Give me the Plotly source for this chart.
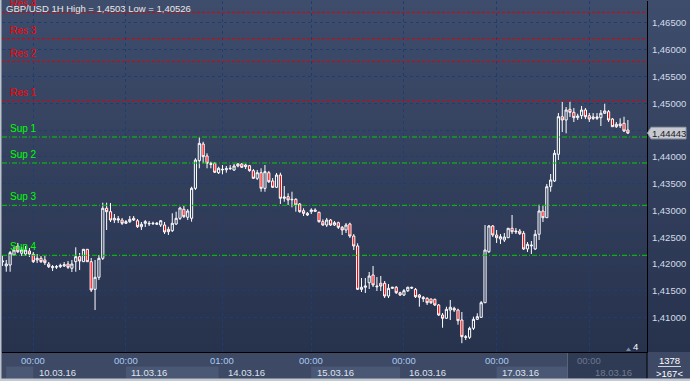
import plotly.graph_objects as go

# ---------------- data (GBP/USD 1H bars) ----------------
bar_index = list(range(-1, 162))

open_ = [1.42039, 1.41965, 1.41983, 1.42170, 1.42338, 1.42202, 1.42188, 1.42244, 1.42183, 1.42077,
         1.42108, 1.42077, 1.42002, 1.41933, 1.41952, 1.41952, 1.41965, 1.42002, 1.41922, 1.42045,
         1.42138, 1.42045, 1.42276, 1.42045, 1.41530, 1.41754, 1.42108, 1.43041, 1.42977, 1.42822,
         1.42847, 1.42822, 1.42761, 1.42791, 1.42854, 1.42809, 1.42697, 1.42761, 1.42761, 1.42753,
         1.42742, 1.42729, 1.42729, 1.42649, 1.42623, 1.42748, 1.42854, 1.43022, 1.42873, 1.42854,
         1.43413, 1.43928, 1.44239, 1.44016, 1.43879, 1.43879, 1.43704, 1.43768, 1.43760, 1.43779,
         1.43755, 1.43866, 1.43866, 1.43848, 1.43835, 1.43742, 1.43600, 1.43704, 1.43413, 1.43704,
         1.43549, 1.43432, 1.43661, 1.43227, 1.43257, 1.43208, 1.43208, 1.43121, 1.42996, 1.42947,
         1.42977, 1.43009, 1.42966, 1.42791, 1.42729, 1.42822, 1.42729, 1.42772, 1.42686, 1.42636,
         1.42748, 1.42524, 1.42338, 1.41530, 1.41568, 1.41653, 1.41797, 1.41592, 1.41642, 1.41642,
         1.41405, 1.41549, 1.41568, 1.41467, 1.41424, 1.41504, 1.41568, 1.41530, 1.41424, 1.41381,
         1.41363, 1.41349, 1.41344, 1.41238, 1.41051, 1.40990, 1.41144, 1.41176, 1.41144, 1.40958,
         1.40647, 1.40635, 1.40803, 1.40971, 1.41008, 1.41280, 1.42231, 1.42711, 1.42543, 1.42468,
         1.42449, 1.42492, 1.42668, 1.42617, 1.42617, 1.42574, 1.42282, 1.42356, 1.42282, 1.42556,
         1.42990, 1.42865, 1.43443, 1.43549, 1.44047, 1.44748, 1.44687, 1.44886, 1.44830, 1.44730,
         1.44767, 1.44873, 1.44767, 1.44743, 1.44718, 1.44730, 1.44812, 1.44842, 1.44705, 1.44562,
         1.44612, 1.44625, 1.44500]

high = [1.42157, 1.42077, 1.42244, 1.42319, 1.42394, 1.42319, 1.42338, 1.42300, 1.42226, 1.42188,
        1.42151, 1.42151, 1.42039, 1.41983, 1.41983, 1.42008, 1.42039, 1.42058, 1.42077, 1.42313,
        1.42207, 1.42282, 1.42282, 1.42114, 1.42077, 1.42170, 1.43145, 1.43145, 1.43139, 1.42934,
        1.42897, 1.42860, 1.42822, 1.42897, 1.42897, 1.42841, 1.42785, 1.42822, 1.42804, 1.42791,
        1.42785, 1.42822, 1.42785, 1.42697, 1.42947, 1.42977, 1.43070, 1.43083, 1.43027, 1.43443,
        1.43973, 1.44364, 1.44282, 1.44066, 1.43909, 1.43904, 1.43816, 1.43848, 1.43829, 1.43848,
        1.43866, 1.43885, 1.43885, 1.43872, 1.43848, 1.43773, 1.43755, 1.43786, 1.43848, 1.43736,
        1.43605, 1.43699, 1.43704, 1.43456, 1.43320, 1.43350, 1.43227, 1.43139, 1.43041, 1.42972,
        1.43041, 1.43041, 1.42977, 1.42835, 1.42860, 1.42841, 1.42804, 1.42791, 1.42711, 1.42766,
        1.42772, 1.42561, 1.42388, 1.41741, 1.41741, 1.41853, 1.41965, 1.41760, 1.41778, 1.41685,
        1.41629, 1.41573, 1.41592, 1.41486, 1.41536, 1.41579, 1.41579, 1.41555, 1.41443, 1.41405,
        1.41381, 1.41355, 1.41355, 1.41256, 1.41088, 1.41206, 1.41331, 1.41206, 1.41169, 1.41107,
        1.40678, 1.40833, 1.41020, 1.41083, 1.41312, 1.42729, 1.42729, 1.42729, 1.42636, 1.42561,
        1.42580, 1.42673, 1.42916, 1.42673, 1.42655, 1.42617, 1.42412, 1.42431, 1.42636, 1.43108,
        1.43083, 1.43494, 1.43680, 1.44127, 1.44817, 1.45028, 1.44929, 1.45030, 1.44910, 1.44804,
        1.44948, 1.44910, 1.44817, 1.44817, 1.44817, 1.44873, 1.44991, 1.44873, 1.44724, 1.44649,
        1.44718, 1.44748, 1.44687]

low = [1.41965, 1.41858, 1.41858, 1.42151, 1.42207, 1.42151, 1.42151, 1.42133, 1.42021, 1.42021,
       1.42021, 1.41983, 1.41927, 1.41872, 1.41909, 1.41927, 1.41946, 1.41909, 1.41853, 1.41858,
       1.41890, 1.42039, 1.42039, 1.41480, 1.41144, 1.41704, 1.42077, 1.42636, 1.42785, 1.42766,
       1.42766, 1.42729, 1.42748, 1.42766, 1.42804, 1.42673, 1.42636, 1.42692, 1.42711, 1.42729,
       1.42729, 1.42692, 1.42561, 1.42543, 1.42599, 1.42729, 1.42822, 1.42860, 1.42822, 1.42791,
       1.43382, 1.43786, 1.43879, 1.43786, 1.43786, 1.43699, 1.43680, 1.43674, 1.43704, 1.43755,
       1.43736, 1.43805, 1.43792, 1.43773, 1.43723, 1.43587, 1.43568, 1.43350, 1.43350, 1.43512,
       1.43419, 1.43419, 1.43121, 1.43164, 1.43102, 1.43059, 1.42977, 1.42958, 1.42897, 1.42897,
       1.42934, 1.42972, 1.42772, 1.42711, 1.42692, 1.42711, 1.42711, 1.42655, 1.42543, 1.42580,
       1.42487, 1.42263, 1.41517, 1.41480, 1.41461, 1.41536, 1.41573, 1.41499, 1.41499, 1.41368,
       1.41368, 1.41536, 1.41443, 1.41405, 1.41405, 1.41480, 1.41536, 1.41368, 1.41206, 1.41294,
       1.41238, 1.41256, 1.41219, 1.41033, 1.40814, 1.40977, 1.40958, 1.41107, 1.40870, 1.40526,
       1.40585, 1.40604, 1.40772, 1.40958, 1.40995, 1.41275, 1.42207, 1.42505, 1.42394, 1.42375,
       1.42412, 1.42487, 1.42561, 1.42561, 1.42543, 1.42263, 1.42226, 1.42188, 1.42263, 1.42449,
       1.42785, 1.42860, 1.43350, 1.43531, 1.43941, 1.44463, 1.44439, 1.44743, 1.44649, 1.44687,
       1.44705, 1.44705, 1.44649, 1.44687, 1.44687, 1.44575, 1.44799, 1.44649, 1.44556, 1.44538,
       1.44538, 1.44463, 1.44426]

close = [1.42058, 1.42002, 1.42213, 1.42263, 1.42231, 1.42263, 1.42263, 1.42188, 1.42045, 1.42108,
         1.42045, 1.42026, 1.41952, 1.41952, 1.41946, 1.41978, 1.41989, 1.41941, 1.42002, 1.42138,
         1.42058, 1.42276, 1.42045, 1.41517, 1.41754, 1.42108, 1.43041, 1.42977, 1.42822, 1.42854,
         1.42822, 1.42761, 1.42791, 1.42835, 1.42822, 1.42697, 1.42742, 1.42791, 1.42753, 1.42761,
         1.42761, 1.42809, 1.42599, 1.42604, 1.42761, 1.42854, 1.43046, 1.42884, 1.42990, 1.43413,
         1.43941, 1.44252, 1.44003, 1.43879, 1.43861, 1.43712, 1.43786, 1.43760, 1.43779, 1.43786,
         1.43829, 1.43829, 1.43805, 1.43816, 1.43742, 1.43600, 1.43704, 1.43413, 1.43723, 1.43536,
         1.43432, 1.43661, 1.43227, 1.43251, 1.43195, 1.43201, 1.43102, 1.42977, 1.42947, 1.42916,
         1.43009, 1.42985, 1.42791, 1.42729, 1.42822, 1.42729, 1.42772, 1.42686, 1.42636, 1.42729,
         1.42524, 1.42338, 1.41530, 1.41568, 1.41592, 1.41778, 1.41611, 1.41579, 1.41592, 1.41405,
         1.41549, 1.41568, 1.41467, 1.41424, 1.41504, 1.41568, 1.41555, 1.41392, 1.41381, 1.41355,
         1.41280, 1.41280, 1.41238, 1.41051, 1.40990, 1.41157, 1.41195, 1.41144, 1.40945, 1.40647,
         1.40635, 1.40803, 1.40971, 1.41020, 1.41280, 1.42263, 1.42711, 1.42543, 1.42492, 1.42511,
         1.42505, 1.42668, 1.42604, 1.42604, 1.42567, 1.42282, 1.42369, 1.42343, 1.42556, 1.42990,
         1.42865, 1.43443, 1.43568, 1.44066, 1.44748, 1.44687, 1.44873, 1.44830, 1.44730, 1.44761,
         1.44873, 1.44748, 1.44705, 1.44718, 1.44743, 1.44812, 1.44855, 1.44687, 1.44562, 1.44607,
         1.44580, 1.44482, 1.44443]

level_names = ["Res 4", "Res 3", "Res 2", "Res 1", "Sup 1", "Sup 2", "Sup 3", "Sup 4"]
level_values = [1.46695, 1.46203, 1.45774, 1.45035, 1.44370, 1.43885, 1.43096, 1.42164]

day_start_bars = [7, 31, 56, 79, 103, 127, 151]
time_labels = ["00:00", "00:00", "01:00", "00:00", "00:00", "00:00", "00:00"]
date_labels = ["10.03.16", "11.03.16", "14.03.16", "15.03.16", "16.03.16", "17.03.16", "18.03.16"]
date_box_spans = [(0, 7), (31, 55), (79, 102), (127, 150)]   # shaded date cells

price_ticks = [1.410, 1.415, 1.420, 1.425, 1.430, 1.435, 1.440, 1.445, 1.450, 1.455, 1.460, 1.465]
hidden_tick = 1.445            # covered by the current-price marker
last_price_text = "1,44443"
title_text = "GBP/USD 1H High = 1,4503 Low = 1,40526"
bars_total_text = "1378"
bars_visible_text = ">167<"

# ---------------- geometry ----------------
W, H = 690, 381
ML, MR, MT, MB = 2, 43, 1, 29
PW, PH = W - ML - MR, H - MT - MB
X_RANGE = [-1.1, 165.95]
Y_RANGE = [1.403613, 1.469054]
FONT = "Liberation Sans, Arial, sans-serif"


def px_x(px):
    return (px - ML) / PW


def px_y(py):
    return (H - MB - py) / PH


def price_py(v):
    return MT + (Y_RANGE[1] - v) / (Y_RANGE[1] - Y_RANGE[0]) * PH


shapes = []
annotations = []

# vertical gradient background (plot + price scale)
top_c, bot_c = (62, 77, 108), (39, 50, 77)
n_bands = 44
for i in range(n_bands):
    t = i / (n_bands - 1)
    c = tuple(round(top_c[j] + (bot_c[j] - top_c[j]) * t) for j in range(3))
    y0 = (H - MB) * i / n_bands
    y1 = (H - MB) * (i + 1) / n_bands + 0.6
    shapes.append(dict(type="rect", xref="paper", yref="paper", layer="below",
                       x0=px_x(0), x1=px_x(W), y0=px_y(min(y1, H - MB)), y1=px_y(y0),
                       fillcolor="rgb(%d,%d,%d)" % c, line=dict(width=0)))

# shaded date cells on the time scale
for a, b in date_box_spans:
    shapes.append(dict(type="rect", xref="x", yref="paper", layer="below",
                       x0=a, x1=b, y0=px_y(378.5), y1=px_y(366.5),
                       fillcolor="#4b5875", line=dict(width=0)))
# dimmed area at right end of time scale
shapes.append(dict(type="rect", xref="paper", yref="paper", layer="below",
                   x0=px_x(567.5), x1=px_x(647), y0=px_y(378.5), y1=px_y(352.5),
                   fillcolor="#2f3a54", line=dict(width=0)))
shapes.append(dict(type="line", xref="paper", yref="paper", layer="below",
                   x0=px_x(567.5), x1=px_x(567.5), y0=px_y(378.5), y1=px_y(352.5),
                   line=dict(color="#5a6478", width=1)))

# support / resistance lines
for name, val in zip(level_names, level_values):
    is_res = name.startswith("Res")
    shapes.append(dict(type="line", xref="paper", yref="y", x0=0, x1=1, y0=val, y1=val,
                       line=dict(color="#e00000" if is_res else "#00d000", width=1,
                                 dash="3px,2px" if is_res else "5px,2px,1px,2px")))
    annotations.append(dict(xref="paper", yref="y", x=px_x(8), y=val, text=name,
                            xanchor="left", yanchor="bottom", yshift=1, showarrow=False,
                            font=dict(family=FONT, size=10,
                                      color="#ff0000" if is_res else "#00ff00")))

# title (drawn over the "Res 4" label)
annotations.append(dict(xref="paper", yref="paper", x=px_x(4), y=px_y(8), text=title_text,
                        xanchor="left", yanchor="middle", showarrow=False,
                        font=dict(family=FONT, size=9.5, color="#e8e8e8")))

# time scale labels
for k, tl, dl in zip(day_start_bars, time_labels, date_labels):
    dim = k >= 151
    annotations.append(dict(xref="x", yref="paper", x=k, y=px_y(360.5), text=tl,
                            xanchor="center", yanchor="middle", showarrow=False,
                            font=dict(family=FONT, size=9.5,
                                      color="#6c7890" if dim else "#a9c9f0")))
    annotations.append(dict(xref="x", yref="paper", x=k, y=px_y(372), text=dl, xshift=3.5,
                            xanchor="left", yanchor="middle", showarrow=False,
                            font=dict(family=FONT, size=9.5,
                                      color="#707b90" if dim else "#dfe4ee")))

# current price marker on the price scale
last_py = price_py(close[-1])
shapes.append(dict(type="path", xref="paper", yref="paper",
                   path="M %f %f L %f %f L %f %f L %f %f L %f %f Z" % (
                       px_x(647.5), px_y(last_py),
                       px_x(651), px_y(last_py - 5.8),
                       px_x(686), px_y(last_py - 5.8),
                       px_x(686), px_y(last_py + 5.8),
                       px_x(651), px_y(last_py + 5.8)),
                   fillcolor="#c6c9cf", line=dict(color="#9aa0aa", width=1)))
annotations.append(dict(xref="paper", yref="paper", x=px_x(668.5), y=px_y(last_py),
                        text=last_price_text, xanchor="center", yanchor="middle",
                        showarrow=False, font=dict(family=FONT, size=9.5, color="#1c2026")))

# scroll marker "4"
shapes.append(dict(type="path", xref="paper", yref="paper",
                   path="M %f %f L %f %f L %f %f Z" % (px_x(626), px_y(351), px_x(631), px_y(351),
                                                       px_x(628.5), px_y(347.5)),
                   fillcolor="#7f8aa0", line=dict(width=0)))
annotations.append(dict(xref="paper", yref="paper", x=px_x(635.5), y=px_y(346.5), text="4",
                        xanchor="center", yanchor="middle", showarrow=False,
                        font=dict(family=FONT, size=9.5, color="#ffffff")))

# bottom-right corner box
shapes.append(dict(type="line", xref="paper", yref="paper", x0=px_x(647), x1=px_x(647),
                   y0=px_y(378.5), y1=px_y(352), line=dict(color="#000000", width=1)))
shapes.append(dict(type="line", xref="paper", yref="paper", x0=px_x(658), x1=px_x(681),
                   y0=px_y(366.5), y1=px_y(366.5), line=dict(color="#cfd4dc", width=1)))
annotations.append(dict(xref="paper", yref="paper", x=px_x(669.5), y=px_y(360), text=bars_total_text,
                        xanchor="center", yanchor="middle", showarrow=False,
                        font=dict(family=FONT, size=9.5, color="#ffffff")))
annotations.append(dict(xref="paper", yref="paper", x=px_x(669.5), y=px_y(373), text=bars_visible_text,
                        xanchor="center", yanchor="middle", showarrow=False,
                        font=dict(family=FONT, size=9.5, color="#ffffff")))

# window frame (left and bottom)
shapes.append(dict(type="rect", xref="paper", yref="paper", x0=px_x(0), x1=px_x(1.5),
                   y0=px_y(H), y1=px_y(0), fillcolor="#bcc3cc", line=dict(width=0)))
shapes.append(dict(type="rect", xref="paper", yref="paper", x0=px_x(0), x1=px_x(W),
                   y0=px_y(H), y1=px_y(378.5), fillcolor="#c4cad2", line=dict(width=0)))

fig = go.Figure()
fig.add_trace(go.Candlestick(
    x=bar_index, open=open_, high=high, low=low, close=close,
    increasing=dict(line=dict(color="#ffffff", width=1), fillcolor="rgba(0,0,0,0)"),
    decreasing=dict(line=dict(color="#ffffff", width=1), fillcolor="#ff0000"),
    whiskerwidth=0, hoverinfo="skip", showlegend=False))

fig.update_layout(
    width=W, height=H,
    margin=dict(l=ML, r=MR, t=MT, b=MB, pad=0),
    paper_bgcolor="#3d4965",
    plot_bgcolor="rgba(0,0,0,0)",
    boxgap=0.2, boxgroupgap=0.3,
    showlegend=False,
    shapes=shapes,
    annotations=annotations,
    xaxis=dict(range=X_RANGE, rangeslider=dict(visible=False), tickmode="array",
               tickvals=day_start_bars, showticklabels=False, ticks="",
               showgrid=True, gridcolor="#1f3d70", griddash="dot", gridwidth=1,
               zeroline=False, showline=True, linecolor="#000000", linewidth=1,
               fixedrange=True),
    yaxis=dict(range=Y_RANGE, side="right", tickmode="array", tickvals=price_ticks,
               ticktext=["" if abs(v - hidden_tick) < 1e-9 else ("%.5f" % v).replace(".", ",")
                         for v in price_ticks],
               ticks="", ticklabelstandoff=2,
               tickfont=dict(family=FONT, size=9.5, color="#d3dbe9"),
               showgrid=True, gridcolor="#1f3d70", griddash="dot", gridwidth=1,
               zeroline=False, showline=True, linecolor="#000000", linewidth=1,
               fixedrange=True),
)

fig.write_html("out.html", config={"displayModeBar": False},
               post_script="document.body.style.margin='0';document.body.style.overflow='hidden';")
